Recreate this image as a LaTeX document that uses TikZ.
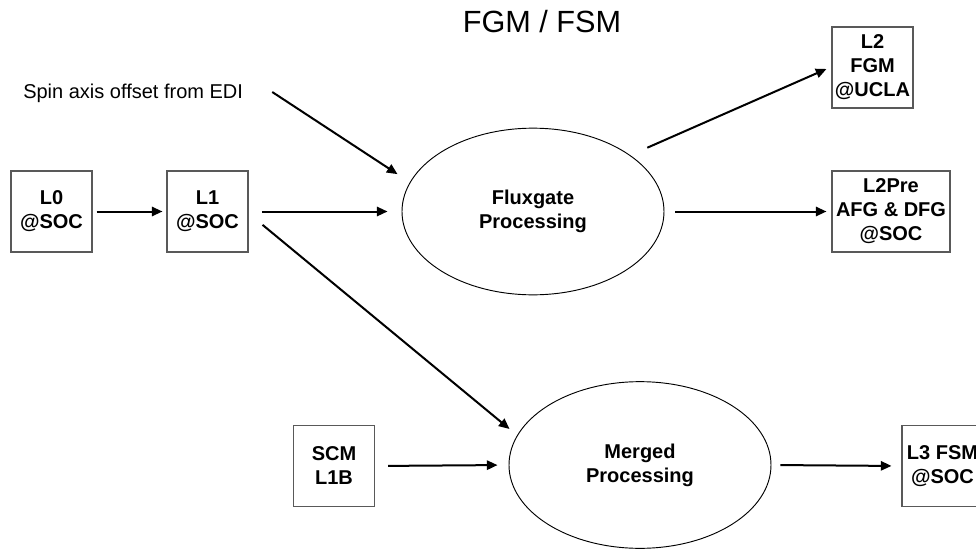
\documentclass[tikz,border=0pt]{standalone}
\usepackage{fontspec}
\setmainfont{Liberation Sans}
\usepackage{tikz}
\usetikzlibrary{
    shapes.geometric,
    arrows.meta
}

\begin{document}
\begin{tikzpicture}[
    x=0.75pt, y=-0.75pt,
    >={Triangle[length=8pt, width=7pt]},
    every text node part/.style={align=center},
    databox/.style={draw=black!65, line width=0.8pt, font=\fontsize{15}{18}\selectfont\bfseries,
        minimum width=60.75pt, minimum height=60.75pt, inner sep=0pt},
    procnode/.style={draw, ellipse, line width=0.7pt, font=\fontsize{15}{18}\selectfont\bfseries,
        minimum width=196.5pt, minimum height=125pt, inner sep=0pt},
    flow/.style={->, line width=1.5pt}
]
\useasboundingbox (0,0) rectangle (976,550);

% ==================== TITLE ====================
\node[font=\fontsize{23}{27}\selectfont] (title) at (542, 22) {FGM / FSM};

% ==================== INPUTS ====================
\node[databox] (l0) at (51.5, 211.5) {L0\\@SOC};
\node[databox] (l1) at (207.5, 211.5) {L1\\@SOC};
\node[databox] (scm) at (334, 466) {SCM\\L1B};
\node[font=\fontsize{15}{18}\selectfont, anchor=west, inner sep=0pt] (spin) at (23, 93) {Spin axis offset from EDI};

% ==================== PROCESSING ====================
\node[procnode] (flux) at (533, 211.5) {Fluxgate\\Processing};
\node[procnode] (merged) at (640, 465) {Merged\\Processing};

% ==================== OUTPUTS ====================
\node[databox] (l2) at (872.5, 67.5) {L2\\FGM\\@UCLA};
\node[databox, minimum width=88.5pt] (l2pre) at (891, 211.5) {L2Pre\\AFG \& DFG\\@SOC};
\node[databox] (l3) at (942.5, 466) {L3 FSM\\@SOC};

% Connectors
\draw[flow, shorten <=3pt, shorten >=3pt] (l0) -- (l1);
\draw[flow, shorten <=10pt, shorten >=10.5pt] (l1.east) -- (flux.west);
\draw[flow] ([xshift=10.5pt, yshift=-10pt]l1.east) -- ([xshift=0.75pt, yshift=27pt]merged.west);
\draw[flow] ([xshift=21.75pt, yshift=0.75pt]spin.east) -- ([xshift=-3pt, yshift=28pt]flux.west);
\draw[flow] ([xshift=16pt, yshift=3.4pt]flux.north east) -- ([xshift=-3.75pt, yshift=-1.1pt]l2.west);
\draw[flow, shorten <=8.25pt, shorten >=3.75pt] (flux.east) -- (l2pre.west);
\draw[flow, shorten <=9.75pt, shorten >=8.25pt] (scm.east) -- (merged.west);
\draw[flow, shorten <=6.75pt, shorten >=7.5pt] (merged.east) -- (l3.west);

\end{tikzpicture}
\end{document}
